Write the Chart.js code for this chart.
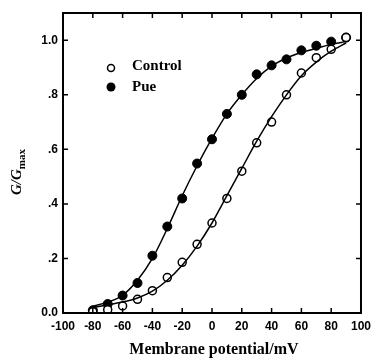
<!DOCTYPE html>
<html>
<head>
<meta charset="utf-8">
<script src="https://cdn.jsdelivr.net/npm/chart.js@4"></script>
<style>
  html, body { margin: 0; padding: 0; background: #fff; }
  #wrap { width: 377px; height: 364px; }
</style>
</head>
<body>
<div id="wrap"><canvas id="chart" width="377" height="364"></canvas></div>
<script>
// membrane potential (mV) for each measured point
const voltages = [-80, -70, -60, -50, -40, -30, -20, -10, 0, 10, 20, 30, 40, 50, 60, 70, 80, 90];

// measured G/Gmax
const controlData = [0.005, 0.012, 0.026, 0.05, 0.082, 0.13, 0.186, 0.252, 0.33, 0.42, 0.52, 0.624, 0.70, 0.80, 0.88, 0.936, 0.967, 1.01];
const pueData = [0.01, 0.033, 0.064, 0.11, 0.21, 0.317, 0.42, 0.548, 0.637, 0.73, 0.80, 0.875, 0.908, 0.93, 0.963, 0.98, 0.995, 1.01];

// fitted curves
const controlFit = [0.02, 0.03, 0.04, 0.055, 0.08, 0.12, 0.175, 0.245, 0.33, 0.43, 0.53, 0.63, 0.72, 0.80, 0.87, 0.92, 0.96, 0.99];
const pueFit = [0.025, 0.04, 0.065, 0.12, 0.20, 0.31, 0.43, 0.54, 0.64, 0.73, 0.80, 0.86, 0.905, 0.935, 0.955, 0.97, 0.985, 0.995];

// axis ticks
const xTicks = [-100, -80, -60, -40, -20, 0, 20, 40, 60, 80, 100];
const yTicks = [0, 0.2, 0.4, 0.6, 0.8, 1.0];
const yTickLabels = ["0.0", ".2", ".4", ".6", ".8", "1.0"];

const toXY = (ys) => voltages.map((v, i) => ({ x: v, y: ys[i] }));

// frame, inward ticks, legend and axis titles
const decorations = {
  id: "decorations",
  afterDraw(chart) {
    const { ctx, chartArea: a, scales } = chart;
    const x = scales.x, y = scales.y;
    ctx.save();
    ctx.strokeStyle = "#000";
    ctx.lineWidth = 2;
    ctx.strokeRect(a.left, a.top, a.right - a.left, a.bottom - a.top);

    ctx.lineWidth = 1.5;
    const len = 5;
    xTicks.forEach((v) => {
      const px = x.getPixelForValue(v);
      ctx.beginPath();
      ctx.moveTo(px, a.bottom); ctx.lineTo(px, a.bottom - len);
      ctx.moveTo(px, a.top); ctx.lineTo(px, a.top + len);
      ctx.stroke();
    });
    yTicks.forEach((v) => {
      const py = y.getPixelForValue(v);
      ctx.beginPath();
      ctx.moveTo(a.left, py); ctx.lineTo(a.left + len, py);
      ctx.moveTo(a.right, py); ctx.lineTo(a.right - len, py);
      ctx.stroke();
    });

    // legend
    ctx.lineWidth = 1.5;
    ctx.beginPath();
    ctx.arc(111, 68, 3.5, 0, Math.PI * 2);
    ctx.fillStyle = "#fff";
    ctx.fill();
    ctx.stroke();
    ctx.beginPath();
    ctx.arc(111, 87, 4.5, 0, Math.PI * 2);
    ctx.fillStyle = "#000";
    ctx.fill();
    ctx.font = "bold 15px 'Liberation Serif'";
    ctx.textBaseline = "middle";
    ctx.textAlign = "left";
    ctx.fillText("Control", 132, 66);
    ctx.fillText("Pue", 132, 87);

    // x title
    ctx.textAlign = "center";
    ctx.font = "bold 16px 'Liberation Serif'";
    ctx.fillText("Membrane potential/mV", (a.left + a.right) / 2 + 2, 350);

    // y title with subscript
    ctx.translate(17, 172);
    ctx.rotate(-Math.PI / 2);
    ctx.font = "italic bold 15px 'Liberation Serif'";
    const main = "G/G";
    const w1 = ctx.measureText(main).width;
    ctx.font = "bold 11px 'Liberation Serif'";
    const w2 = ctx.measureText("max").width;
    const start = -(w1 + w2) / 2;
    ctx.textAlign = "left";
    ctx.font = "italic bold 15px 'Liberation Serif'";
    ctx.fillText(main, start, 0);
    ctx.font = "bold 11px 'Liberation Serif'";
    ctx.fillText("max", start + w1, 5);
    ctx.restore();
  }
};

const fitStyle = {
  type: "line",
  borderColor: "#000",
  borderWidth: 1.5,
  pointRadius: 0,
  cubicInterpolationMode: "monotone",
  fill: false
};

const tickFont = { family: "'Liberation Sans'", weight: "bold", size: 12 };

new Chart(document.getElementById("chart"), {
  type: "scatter",
  data: {
    datasets: [
      { ...fitStyle, label: "Control fit", data: toXY(controlFit) },
      { ...fitStyle, label: "Pue fit", data: toXY(pueFit) },
      {
        label: "Control",
        data: toXY(controlData),
        pointRadius: 4,
        pointBackgroundColor: "#fff",
        pointBorderColor: "#000",
        pointBorderWidth: 1.5
      },
      {
        label: "Pue",
        data: toXY(pueData),
        pointRadius: 4.5,
        pointBackgroundColor: "#000",
        pointBorderColor: "#000",
        pointBorderWidth: 1
      }
    ]
  },
  options: {
    responsive: false,
    animation: false,
    layout: { padding: { top: 13, right: 12, left: 0, bottom: 0 } },
    plugins: { legend: { display: false }, tooltip: { enabled: false } },
    scales: {
      x: {
        type: "linear",
        min: -100,
        max: 100,
        afterBuildTicks: (s) => { s.ticks = xTicks.map((v) => ({ value: v })); },
        afterFit: (s) => { s.height = 51; },
        grid: { display: false, drawTicks: false },
        border: { display: false },
        ticks: {
          padding: 6,
          maxRotation: 0,
          color: "#000",
          font: tickFont,
          callback: (v) => String(v)
        }
      },
      y: {
        type: "linear",
        min: 0,
        max: 1.1,
        afterBuildTicks: (s) => { s.ticks = yTicks.map((v) => ({ value: v })); },
        afterFit: (s) => { s.width = 63; },
        grid: { display: false, drawTicks: false },
        border: { display: false },
        ticks: {
          padding: 5,
          color: "#000",
          font: tickFont,
          callback: (v) => {
            const i = yTicks.findIndex((t) => Math.abs(t - v) < 1e-6);
            return i >= 0 ? yTickLabels[i] : "";
          }
        }
      }
    }
  },
  plugins: [decorations]
});
</script>
</body>
</html>
